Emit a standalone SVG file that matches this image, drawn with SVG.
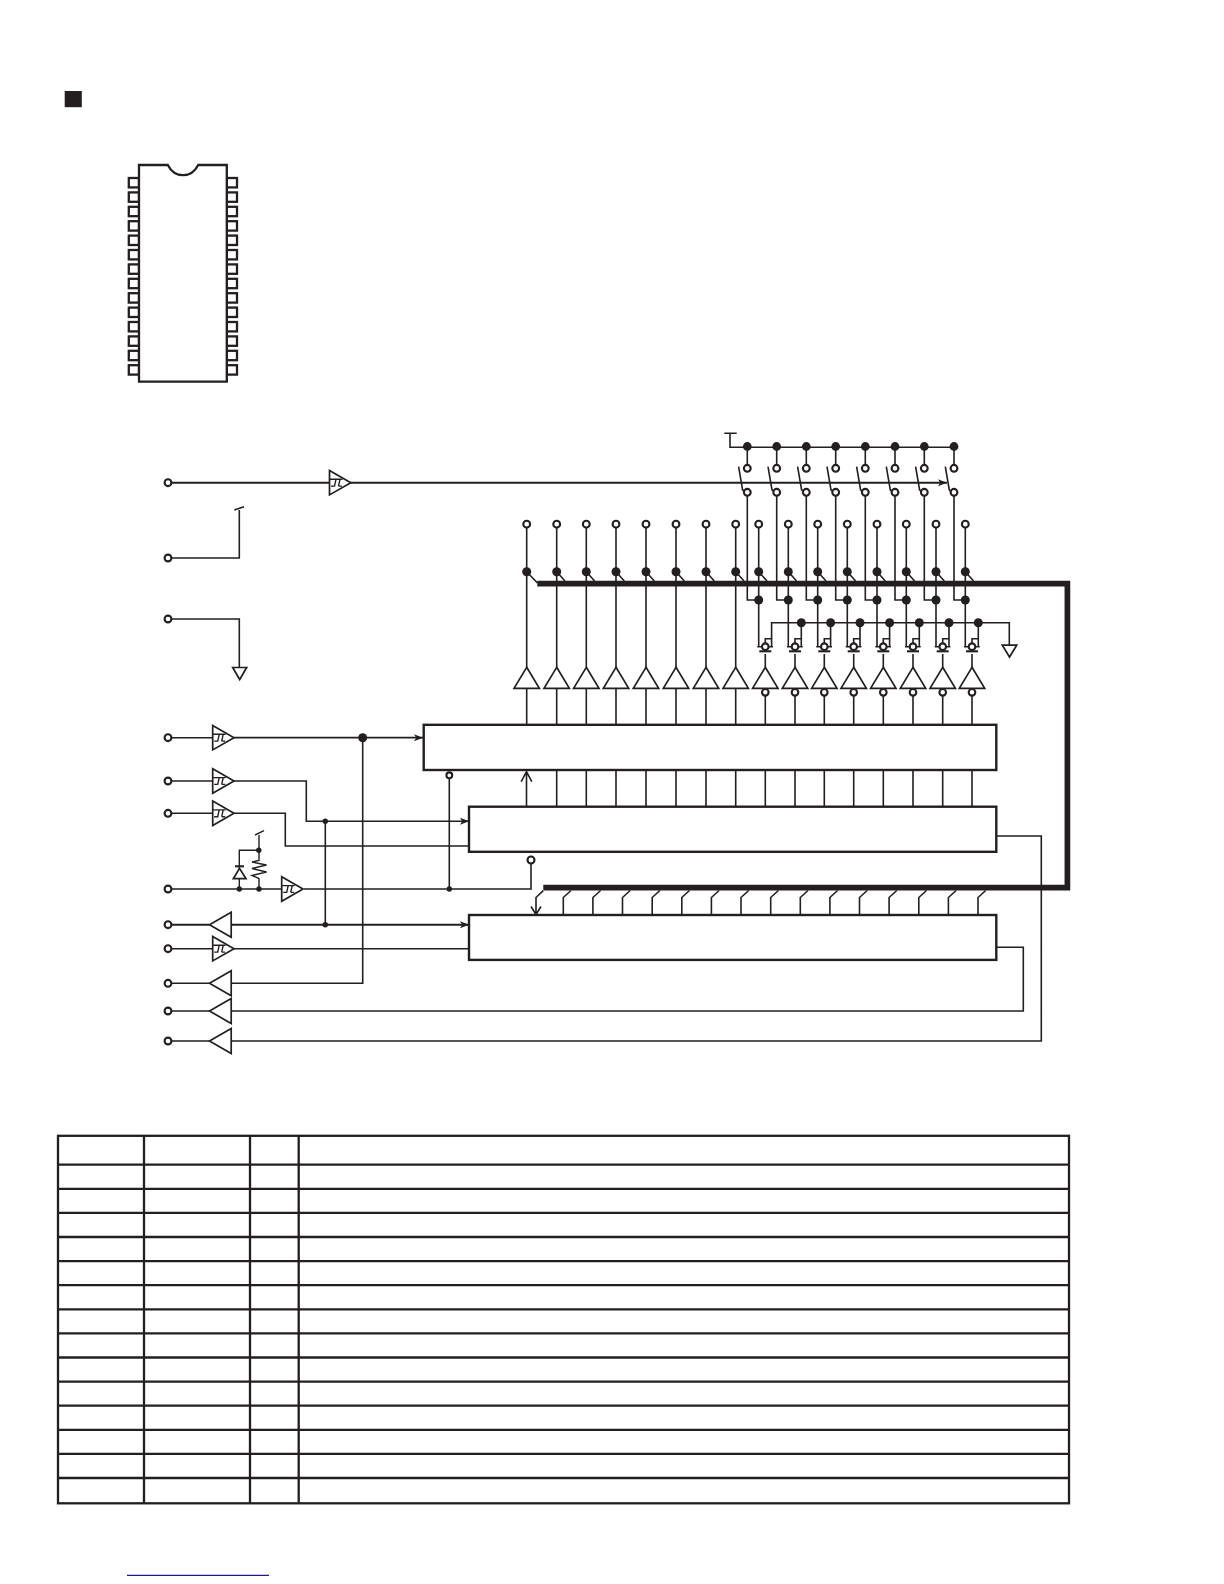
<svg xmlns="http://www.w3.org/2000/svg" width="1224" height="1584" viewBox="0 0 1224 1584">
<style>
.l{fill:none;stroke:#231f20;stroke-width:1.6}
.h{fill:none;stroke:#231f20;stroke-width:2.1}
.b{fill:#fff;stroke:#231f20;stroke-width:2.4}
.bus{fill:none;stroke:#231f20;stroke-width:5.7;stroke-miterlimit:10}
.t{fill:#fff;stroke:#231f20;stroke-width:2.1}
.s{fill:#fff;stroke:#231f20;stroke-width:1.7;stroke-linejoin:miter}
.d{fill:#231f20}
.p{fill:#fff;stroke:#231f20;stroke-width:2.3}
</style>
<defs>
<marker id="arr" markerUnits="userSpaceOnUse" markerWidth="9" markerHeight="8" refX="9" refY="4" viewBox="0 0 9 8" orient="auto"><path d="M0 .5L9 4L0 7.5L2.2 4z" fill="#231f20"/></marker>
<circle id="term" class="t" r="3.4"/>
<circle id="dot" class="d" r="4.5"/>
<circle id="sdot" class="d" r="2.7"/>
<g id="sch"><path class="s" d="M0-12.2L21.3 0L0 12.2z"/><path class="l" d="M0-3.4H13M1.5 3.4H5L6.5-3.4M9 3.4L10.5-3.4M9 3.4H12.5" style="stroke-width:1.4"/></g>
<path id="lft" class="s" d="M21.7-12.5L0 0L21.7 12.5z"/>
<path id="buf" class="s" d="M0 667.3L12.7 688.3H-12.7z"/>
<g id="fet">
<path class="l" d="M-8 646.7H7.7M0 654V667.3M0 643V638.7H6.3"/>
<path class="h" d="M-6 651.3H6"/>
<circle class="t" cy="646.7" r="3.3"/>
<path class="s" d="M0 667.3L12.7 688.3H-12.7z"/>
<circle class="t" cy="692.3" r="3.3"/>
</g>
<g id="sw"><path class="l" d="M0 446.5V465M-8.7 466.7L-4.7 490L-1 492.3"/><circle class="t" cy="468.3" r="3.4"/><circle class="t" cy="492.3" r="3.4"/><circle class="d" cy="446.5" r="4.4"/></g>
<g id="col"><circle class="t" cy="524.2" r="3.4"/><circle class="d" cy="571.8" r="4.5"/></g>
</defs>

<rect width="1224" height="1584" fill="#fff"/>
<rect id="heading-mark" x="64.7" y="91" width="17.1" height="16.2" fill="#231f20"/>

<g id="ic-package">
<g class="p">
<rect x="128.8" y="178" width="10.2" height="9.4"/><rect x="128.8" y="192.4" width="10.2" height="9.4"/><rect x="128.8" y="206.8" width="10.2" height="9.4"/><rect x="128.8" y="221.2" width="10.2" height="9.4"/><rect x="128.8" y="235.6" width="10.2" height="9.4"/><rect x="128.8" y="250" width="10.2" height="9.4"/><rect x="128.8" y="264.4" width="10.2" height="9.4"/><rect x="128.8" y="278.8" width="10.2" height="9.4"/><rect x="128.8" y="293.2" width="10.2" height="9.4"/><rect x="128.8" y="307.6" width="10.2" height="9.4"/><rect x="128.8" y="322" width="10.2" height="9.4"/><rect x="128.8" y="336.4" width="10.2" height="9.4"/><rect x="128.8" y="350.8" width="10.2" height="9.4"/><rect x="128.8" y="365.2" width="10.2" height="9.4"/>
<rect x="226.8" y="178" width="10.2" height="9.4"/><rect x="226.8" y="192.4" width="10.2" height="9.4"/><rect x="226.8" y="206.8" width="10.2" height="9.4"/><rect x="226.8" y="221.2" width="10.2" height="9.4"/><rect x="226.8" y="235.6" width="10.2" height="9.4"/><rect x="226.8" y="250" width="10.2" height="9.4"/><rect x="226.8" y="264.4" width="10.2" height="9.4"/><rect x="226.8" y="278.8" width="10.2" height="9.4"/><rect x="226.8" y="293.2" width="10.2" height="9.4"/><rect x="226.8" y="307.6" width="10.2" height="9.4"/><rect x="226.8" y="322" width="10.2" height="9.4"/><rect x="226.8" y="336.4" width="10.2" height="9.4"/><rect x="226.8" y="350.8" width="10.2" height="9.4"/><rect x="226.8" y="365.2" width="10.2" height="9.4"/>
</g>
<path class="p" d="M139 165H167.8Q173 175.2 183 175.2T198.2 165H226.8V381.6H139z"/>
</g>

<g id="connectors">
<path class="h" d="M168 482.7H330"/>
<path class="h" marker-end="url(#arr)" d="M350 482.7H947"/>
<path class="l" d="M730 433.3V447.3H954M724.3 433.3H736.7"/>
<path class="l" d="M168 558H239.3V510M234.3 510L244 506.7M168 619H239.3V667.3"/>

<path class="l" d="M747.3 492.3V600H758.7M776.7 492.3V600H788.3M806.3 492.3V600H817.7M835.7 492.3V600H847.3M865.3 492.3V600H877M895 492.3V600H906.3M924.3 492.3V600H936M954 492.3V600H965.3"/>
<path class="l" d="M526.7 524V667.3M556.7 524V667.3M586.3 524V667.3M616 524V667.3M646 524V667.3M676 524V667.3M706 524V667.3M735.7 524V667.3"/>
<path class="l" d="M758.7 524V646.7M788.3 524V646.7M817.7 524V646.7M847.3 524V646.7M877 524V646.7M906.3 524V646.7M936 524V646.7M965.3 524V646.7"/>
<path class="l" d="M526.7 571.8L537.5 583M556.7 571.8L565 581M586.3 571.8L594.6 581M616 571.8L624.3 581M646 571.8L654.3 581M676 571.8L684.3 581M706 571.8L714.3 581M735.7 571.8L744 581M758.7 571.8L767 581M788.3 571.8L796.6 581M817.7 571.8L826 581M847.3 571.8L855.6 581M877 571.8L885.3 581M906.3 571.8L914.6 581M936 571.8L944.3 581M965.3 571.8L973.6 581"/>
<path class="l" d="M771.6 646.7V622.7H1009.3V646M801.3 622.7V646.7M830.6 622.7V646.7M860 622.7V646.7M889.6 622.7V646.7M919.3 622.7V646.7M949 622.7V646.7M978.3 622.7V646.7"/>
<path class="bus" d="M537.3 583.7H1067.4V887.6H543.3"/>

<path class="l" d="M526.7 688V724M556.7 688V724M586.3 688V724M616 688V724M646 688V724M676 688V724M706 688V724M735.7 688V724M765.3 695V724M795 695V724M824.3 695V724M853.7 695V724M883.3 695V724M913 695V724M942.7 695V724M972 695V724"/>
<path class="l" d="M526.5 806V773M521.2 781.7L526.5 771.7L531.8 781.7"/>
<path class="l" d="M556.7 770V806M586.3 770V806M616 770V806M646 770V806M676 770V806M706 770V806M735.7 770V806M765.3 770V806M795 770V806M824.3 770V806M853.7 770V806M883.3 770V806M913 770V806M942.7 770V806M972 770V806"/>
<path class="l" d="M543.3 890.7L536 897.5V914M531 906.5L536 914.5L541 906.5"/>
<path class="l" d="M563.3 915V897.5L571 890.5M592.9 915V897.5L600.6 890.5M622.5 915V897.5L630.2 890.5M652.2 915V897.5L659.9 890.5M681.8 915V897.5L689.5 890.5M711.4 915V897.5L719.1 890.5M741 915V897.5L748.7 890.5M770.7 915V897.5L778.4 890.5M800.3 915V897.5L808 890.5M829.9 915V897.5L837.6 890.5M859.5 915V897.5L867.2 890.5M889.1 915V897.5L896.8 890.5M918.8 915V897.5L926.5 890.5M948.4 915V897.5L956.1 890.5M978 915V897.5L985.7 890.5"/>

<path class="l" d="M168 737.7H213"/>
<path class="h" style="stroke-width:1.7" marker-end="url(#arr)" d="M234 737.7H423"/>
<path class="l" d="M362.7 737.7V983.3H231"/>
<path class="l" d="M168 781H213M234 781H306.3V821.3H325.3"/>
<path class="l" marker-end="url(#arr)" d="M325.3 821.3H469"/>
<path class="l" d="M325.3 821.3V924.7"/>
<path class="l" d="M168 813.3H213M234 813.3H285.3V846H469"/>
<path class="l" d="M168 889H281.7M304 889H531V863.5M449.3 889V778.5"/>
<path class="h" d="M168 924.7H209.5"/>
<path class="h" marker-end="url(#arr)" d="M231 924.7H469"/>
<path class="l" d="M168 948.7H213M234 948.7H469"/>
<path class="l" d="M168 983.3H209.5M168 1011H209.5M168 1041H209.5"/>
<path class="l" d="M231 1011H1023.3V947.3H996M231 1041H1041.3V836H996"/>
</g>

<g id="vdd-switches">
<use href="#sw" x="747.3"/><use href="#sw" x="776.7"/><use href="#sw" x="806.3"/><use href="#sw" x="835.7"/><use href="#sw" x="865.3"/><use href="#sw" x="895"/><use href="#sw" x="924.3"/><use href="#sw" x="954"/>
</g>
<g id="outputs-open-drain">
<use href="#col" x="526.7"/><use href="#col" x="556.7"/><use href="#col" x="586.3"/><use href="#col" x="616"/><use href="#col" x="646"/><use href="#col" x="676"/><use href="#col" x="706"/><use href="#col" x="735.7"/>
<use href="#buf" x="526.7"/><use href="#buf" x="556.7"/><use href="#buf" x="586.3"/><use href="#buf" x="616"/><use href="#buf" x="646"/><use href="#buf" x="676"/><use href="#buf" x="706"/><use href="#buf" x="735.7"/>
</g>
<g id="outputs-fet">
<use href="#col" x="758.7"/><use href="#col" x="788.3"/><use href="#col" x="817.7"/><use href="#col" x="847.3"/><use href="#col" x="877"/><use href="#col" x="906.3"/><use href="#col" x="936"/><use href="#col" x="965.3"/>
<use href="#dot" x="758.7" y="600"/><use href="#dot" x="788.3" y="600"/><use href="#dot" x="817.7" y="600"/><use href="#dot" x="847.3" y="600"/><use href="#dot" x="877" y="600"/><use href="#dot" x="906.3" y="600"/><use href="#dot" x="936" y="600"/><use href="#dot" x="965.3" y="600"/>
<use href="#dot" x="801.3" y="622.7"/><use href="#dot" x="830.6" y="622.7"/><use href="#dot" x="860" y="622.7"/><use href="#dot" x="889.6" y="622.7"/><use href="#dot" x="919.3" y="622.7"/><use href="#dot" x="949" y="622.7"/><use href="#dot" x="978.3" y="622.7"/>
<use href="#fet" x="765.3"/><use href="#fet" x="795"/><use href="#fet" x="824.3"/><use href="#fet" x="853.7"/><use href="#fet" x="883.3"/><use href="#fet" x="913"/><use href="#fet" x="942.7"/><use href="#fet" x="972"/>
</g>
<path id="gnd-right" class="s" d="M1002.3 645.2H1016.7L1009.5 657z"/>

<g id="block-1"><rect class="b" x="423.7" y="724.8" width="572.6" height="45.2"/></g>
<g id="block-2"><rect class="b" x="469" y="806.7" width="527.3" height="45.1"/></g>
<g id="block-3"><rect class="b" x="469" y="915" width="527.3" height="44.9"/></g>

<g id="pin-oe"><use href="#term" x="168" y="482.7"/><use href="#sch" x="329.5" y="482.7"/></g>
<g id="pin-vdd"><use href="#term" x="168" y="558"/></g>
<g id="pin-vss"><use href="#term" x="168" y="619"/><path class="s" d="M232.7 667.5H246.7L239.7 679.5z"/></g>
<g id="pin-clk"><use href="#term" x="168" y="737.7"/><use href="#sch" x="212.7" y="737.7"/><use href="#dot" x="362.7" y="737.7"/></g>
<g id="pin-a"><use href="#term" x="168" y="781"/><use href="#sch" x="212.7" y="781"/><use href="#sdot" x="325.3" y="821.3"/></g>
<g id="pin-b"><use href="#term" x="168" y="813.3"/><use href="#sch" x="212.7" y="813.3"/></g>
<g id="pin-rst">
<use href="#term" x="168" y="889"/>
<path class="l" d="M239.3 889V850.3H259M239.3 868V866M259 889V878.5L252 875.5L266.5 872L252 868.5L266.5 865L252 862L259 860.5V835M255 835L264 830.7" style="stroke-width:1.4"/>
<path class="s" d="M233.3 878.7H246L239.5 868.3z"/>
<path class="h" d="M235 866.3H244"/>
<use href="#sdot" x="239.3" y="889"/><use href="#sdot" x="259" y="889"/><use href="#sdot" x="258.8" y="850.3"/>
<use href="#sch" x="281.7" y="889"/>
<use href="#sdot" x="449.3" y="889"/>
<circle class="t" cx="449.3" cy="775.3" r="2.9"/>
<circle class="t" cx="531" cy="860" r="3.5"/>
</g>
<g id="pin-io"><use href="#term" x="168" y="924.7"/><use href="#lft" x="209.5" y="924.7"/><use href="#sdot" x="325.3" y="924.7"/></g>
<g id="pin-d"><use href="#term" x="168" y="948.7"/><use href="#sch" x="212.7" y="948.7"/></g>
<g id="pin-o1"><use href="#term" x="168" y="983.3"/><use href="#lft" x="209.5" y="983.3"/></g>
<g id="pin-o2"><use href="#term" x="168" y="1011"/><use href="#lft" x="209.5" y="1011"/></g>
<g id="pin-o3"><use href="#term" x="168" y="1041"/><use href="#lft" x="209.5" y="1041"/></g>

<g id="table" fill="none" stroke="#231f20" stroke-width="2.3">
<rect x="58" y="1135.8" width="1011" height="367.5"/>
<path d="M144 1135.8V1503.3M250 1135.8V1503.3M298.7 1135.8V1503.3"/>
<path d="M58 1164.7H1069M58 1188.9H1069M58 1212.9H1069M58 1237H1069M58 1261.1H1069M58 1285.2H1069M58 1309.3H1069M58 1333.4H1069M58 1357.5H1069M58 1381.6H1069M58 1405.7H1069M58 1429.8H1069M58 1453.9H1069M58 1478H1069"/>
</g>
<path id="footer-rule" d="M127 1575.3H269" stroke="#1a1a8c" stroke-width="1.2" fill="none"/>
</svg>
